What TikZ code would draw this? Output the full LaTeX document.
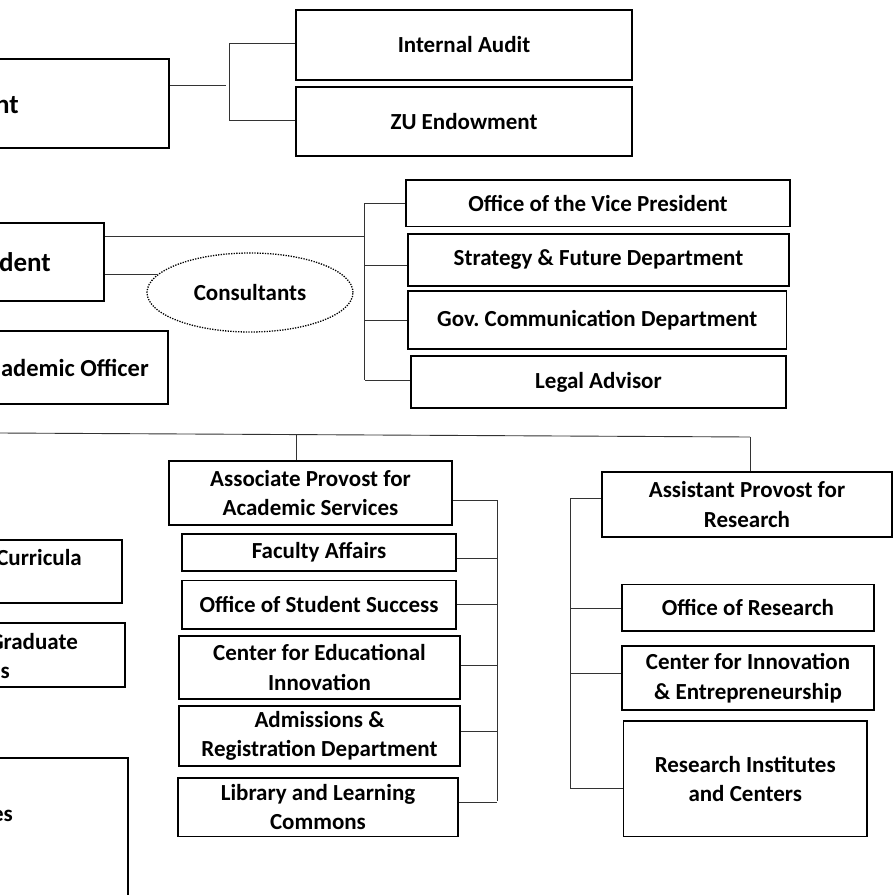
\documentclass[tikz,border=0pt]{standalone}
\usepackage{fontspec}
\setmainfont{Carlito}
\usetikzlibrary{shapes.geometric}
\frenchspacing
\newcommand{\boxfont}{\fontsize{23}{29.5}\selectfont\bfseries}
\newcommand{\bigfont}{\fontsize{27}{31}\selectfont\bfseries}

\begin{document}
\begin{tikzpicture}[x=1pt, y=-1pt,
  unit/.style={draw, line width=1.6pt, align=center, font=\boxfont, inner sep=2pt},
  cutbox/.style={draw, line width=1.6pt, anchor=east, minimum width=320},
  frag/.style={anchor=base east, inner sep=0pt, font=\boxfont},
  advice/.style={draw, ellipse, dash pattern=on 1.3pt off 1.3pt, line width=1.3pt,
                 font=\boxfont, inner sep=0pt},
  conn/.style={line width=0.9pt, black!80}
]
\clip (0,0) rectangle (893,895);

% top: president and reporting units
\node[cutbox, minimum height=89] (pres) at (170,103.5) {};
\node[frag, font=\bigfont] (presT) at (19,113) {nt};
\node[unit, minimum width=336, minimum height=70] (audit) at (464,45) {Internal Audit};
\node[unit, minimum width=336, minimum height=69] (endow) at (464,121.5) {ZU Endowment};
\coordinate (b1in) at (226,85);
\coordinate (b1top) at (229.5,43);
\coordinate (b1bot) at (229.5,120);
\draw[conn] (pres.east |- b1in) -- (b1in);
\draw[conn] (audit.west |- b1top) -- (b1top) -- (b1bot) -- (endow.west |- b1bot);

% vice president and offices
\node[cutbox, minimum height=78] (vpres) at (105,262) {};
\node[frag, font=\bigfont] (vpresT) at (51,271.7) {dent};
\node[advice, minimum width=206, minimum height=79] (cons) at (250,292.5) {Consultants};
\node[cutbox, minimum height=73] (cao) at (169,367.5) {};
\node[frag, font=\fontsize{24.5}{30}\selectfont\bfseries] (caoT) at (149,376) {ademic Officer};
\node[unit, minimum width=384, minimum height=46.5] (vpo) at (598,203.25) {Office of the Vice President};
\node[unit, minimum width=381, minimum height=52] (sf) at (598.5,260) {Strategy \& Future Department};
\node[unit, minimum width=378.5, minimum height=58] (gov) at (597.25,320) {Gov. Communication Department};
\node[unit, minimum width=375, minimum height=52] (legal) at (598.5,382) {Legal Advisor};
\coordinate (b2in) at (364.5,236.5);
\coordinate (b2top) at (364.5,203.25);
\coordinate (b2bot) at (364.5,380);
\draw[conn] (vpres.east |- b2in) -- (b2in);
\draw[conn] (cons.169) -- (cons.169 -| vpres.east);
\draw[conn] (b2top) -- (b2bot);
\foreach \b/\dy in {vpo/0, sf/-5, gov/0, legal/2}
  \draw[conn] ([yshift=\dy]\b.west) -- ([yshift=\dy]\b.west -| b2top);

% provost level
\coordinate (busL) at (0,433);
\coordinate (busR) at (750,437);
\coordinate (dropA) at (296,434.5);
\draw[conn] (busL) -- (busR);

\node[cutbox, minimum height=63] (cur) at (123,571.5) {};
\node[frag] (curT) at (82,565.7) {Curricula};
\node[cutbox, minimum height=64] (grad) at (126,655) {};
\node[frag] (gradT) at (78,649.3) {Graduate};
\node[frag] (gradS) at (10,678.3) {s};
\node[cutbox, minimum height=138] (es) at (129,827) {};
\node[frag] (esT) at (13,821) {es};

% academic services
\node[unit, minimum width=283, minimum height=64] (assoc) at (310.5,493) {Associate Provost for\\Academic Services};
\node[unit, minimum width=274, minimum height=37] (fac) at (319,552.5) {Faculty Affairs};
\node[unit, minimum width=274, minimum height=48.5] (oss) at (319,604.75) {Office of Student Success};
\node[unit, minimum width=281, minimum height=63] (cei) at (319.5,667.5) {Center for Educational\\Innovation};
\node[unit, minimum width=281, minimum height=60] (adm) at (319.5,736) {Admissions \&\\Registration Department};
\node[unit, minimum width=280, minimum height=58.5] (lib) at (318,807.25) {Library and Learning\\Commons};
\draw[conn] (dropA) -- (assoc.north -| dropA);
\coordinate (brAtop) at (497,500);
\coordinate (brAbot) at (497,801);
\draw[conn] (brAtop) -- (brAbot);
\foreach \b/\dy in {assoc/-7, fac/-5.5, oss/0, cei/2.5, adm/5, lib/5}
  \draw[conn] ([yshift=\dy]\b.east) -- ([yshift=\dy]\b.east -| brAtop);

% research
\node[unit, minimum width=290, minimum height=65] (asst) at (747,504.5) {Assistant Provost for\\Research};
\node[unit, minimum width=252, minimum height=46.5] (ofr) at (748,607.75) {Office of Research};
\node[unit, minimum width=252, minimum height=64] (cie) at (748,678) {Center for Innovation\\\& Entrepreneurship};
\node[unit, minimum width=243.5, minimum height=115.5] (rin) at (745.25,778.75) {Research Institutes\\and Centers};
\draw[conn] (busR) -- (asst.north -| busR);
\coordinate (brBtop) at (570,498);
\coordinate (brBbot) at (570,788);
\draw[conn] (brBtop) -- (brBbot);
\foreach \b/\dy in {asst/6.5, ofr/-1, cie/5, rin/-9.5}
  \draw[conn] ([yshift=\dy]\b.west) -- ([yshift=\dy]\b.west -| brBtop);
\end{tikzpicture}
\end{document}
